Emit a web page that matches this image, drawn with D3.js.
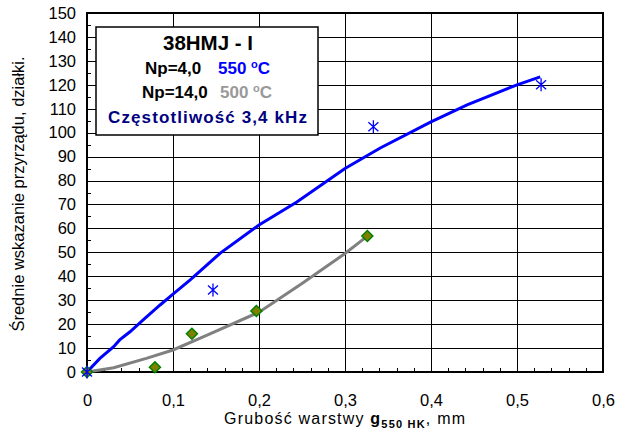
<!DOCTYPE html>
<html>
<head>
<meta charset="utf-8">
<script src="https://cdn.jsdelivr.net/npm/d3@7"></script>
<style>
  body { margin: 0; background: #fff; }
  text { font-family: "Liberation Sans", Arial, sans-serif; }
</style>
</head>
<body>
<div id="chart"></div>
<script>
// blue curve, Np=4,0, 550 oC
const blueLineX = [0, 0.015, 0.031, 0.038, 0.05, 0.065, 0.085, 0.1, 0.12, 0.155, 0.2, 0.244, 0.3, 0.341, 0.4, 0.442, 0.5, 0.527];
const blueLineY = [0, 5.7, 10.6, 13.4, 16.8, 21.7, 28, 32.5, 38.5, 49.7, 61.4, 71, 85, 93.6, 104.5, 111.6, 120, 123.3];
// gray curve, Np=14,0, 500 oC
const grayLineX = [0, 0.031, 0.069, 0.1, 0.143, 0.2, 0.25, 0.3, 0.326];
const grayLineY = [0, 1.8, 5.7, 9.2, 15.9, 25, 37, 49.5, 56.8];
// measured points
const starX = [0, 0.1465, 0.333, 0.528];
const starY = [0, 34.3, 102.5, 120];
const diamondX = [0, 0.079, 0.122, 0.197, 0.326];
const diamondY = [0, 2, 16, 25.5, 56.8];

const xTicks = [0, 0.1, 0.2, 0.3, 0.4, 0.5, 0.6];
const yTicks = d3.range(0, 151, 10);

const W = 630, H = 430;
const svg = d3.select("#chart").append("svg").attr("width", W).attr("height", H);

const x = d3.scaleLinear().domain([0, 0.6]).range([87, 603]);
const y = d3.scaleLinear().domain([0, 150]).range([372, 13]);

const loc = d3.formatLocale({ decimal: ",", thousands: " ", grouping: [3], currency: ["", ""] });
const fmtX = (d) => (d === 0 ? "0" : loc.format(".1f")(d));

// gridlines
svg.append("g")
  .attr("transform", "translate(0,372)")
  .call(d3.axisBottom(x).tickValues(xTicks).tickSize(-359).tickFormat(""))
  .call((g) => g.select(".domain").remove())
  .selectAll("line").attr("stroke", "#000").attr("shape-rendering", "crispEdges");
svg.append("g")
  .attr("transform", "translate(87,0)")
  .call(d3.axisLeft(y).tickValues(yTicks).tickSize(-516).tickFormat(""))
  .call((g) => g.select(".domain").remove())
  .selectAll("line").attr("stroke", "#000").attr("shape-rendering", "crispEdges");

// minor inner ticks
svg.append("g")
  .attr("transform", "translate(0,372)")
  .call(d3.axisBottom(x).tickValues(d3.range(0, 0.601, 0.02)).tickSize(-4).tickFormat(""))
  .call((g) => g.select(".domain").remove())
  .selectAll("line").attr("stroke", "#000").attr("shape-rendering", "crispEdges");
svg.append("g")
  .attr("transform", "translate(87,0)")
  .call(d3.axisLeft(y).tickValues(d3.range(0, 151, 5)).tickSize(-4).tickFormat(""))
  .call((g) => g.select(".domain").remove())
  .selectAll("line").attr("stroke", "#000").attr("shape-rendering", "crispEdges");

// frame
svg.append("rect")
  .attr("x", 87).attr("y", 13).attr("width", 516).attr("height", 359)
  .attr("fill", "none").attr("stroke", "#000").attr("stroke-width", 2);

// tick labels
svg.append("g")
  .attr("transform", "translate(0,372)")
  .call(d3.axisBottom(x).tickValues(xTicks).tickSize(0).tickPadding(22).tickFormat(fmtX))
  .call((g) => g.select(".domain").remove())
  .selectAll("text").attr("font-size", 16.5).attr("font-family", "Liberation Sans, Arial").attr("fill", "#000");
svg.append("g")
  .attr("transform", "translate(87,0)")
  .call(d3.axisLeft(y).tickValues(yTicks).tickSize(0).tickPadding(11).tickFormat(d3.format("d")))
  .call((g) => g.select(".domain").remove())
  .selectAll("text").attr("font-size", 16.5).attr("font-family", "Liberation Sans, Arial").attr("fill", "#000");

// axis titles
svg.append("text")
  .attr("transform", "translate(24,194) rotate(-90)")
  .attr("text-anchor", "middle")
  .attr("font-size", 16.5)
  .text("Średnie wskazanie przyrządu, działki.");

const xt = svg.append("text")
  .attr("x", 224).attr("y", 424)
  .attr("font-size", 16)
  .attr("textLength", 241);
xt.append("tspan").text("Grubość warstwy ");
xt.append("tspan").attr("font-weight", "bold").text("g");
xt.append("tspan").attr("font-weight", "bold").attr("font-size", 11).attr("dy", 4).text("550 HK");
xt.append("tspan").attr("dy", -4).text(", mm");

// lines
const line = d3.line().x((d) => x(d[0])).y((d) => y(d[1]));
svg.append("path")
  .datum(grayLineX.map((v, i) => [v, grayLineY[i]]))
  .attr("d", line).attr("fill", "none").attr("stroke", "#808080").attr("stroke-width", 3);
svg.append("path")
  .datum(blueLineX.map((v, i) => [v, blueLineY[i]]))
  .attr("d", line).attr("fill", "none").attr("stroke", "#0000ff").attr("stroke-width", 3);

// diamonds
svg.selectAll(".dia")
  .data(diamondX.map((v, i) => [v, diamondY[i]]))
  .enter().append("path")
  .attr("class", "dia")
  .attr("transform", (d) => `translate(${x(d[0])},${y(d[1])})`)
  .attr("d", "M0,-5.5L5.5,0L0,5.5L-5.5,0Z")
  .attr("fill", "#808000").attr("stroke", "#008000").attr("stroke-width", 1.5);

// asterisks
svg.selectAll(".star")
  .data(starX.map((v, i) => [v, starY[i]]))
  .enter().append("path")
  .attr("class", "star")
  .attr("transform", (d) => `translate(${x(d[0])},${y(d[1])})`)
  .attr("d", "M-5,-4.5L5,4.5M-5,4.5L5,-4.5M0,-6.5L0,6.5")
  .attr("fill", "none").attr("stroke", "#0000ff").attr("stroke-width", 1.3);

// legend box
const lg = svg.append("g");
lg.append("rect")
  .attr("x", 96).attr("y", 27).attr("width", 222).attr("height", 108)
  .attr("fill", "#fff").attr("stroke", "#000").attr("stroke-width", 1.5);
lg.append("text").attr("x", 208).attr("y", 50).attr("text-anchor", "middle")
  .attr("font-size", 20.5).attr("font-weight", "bold").text("38HMJ - I");

const l1 = lg.append("text").attr("y", 74).attr("font-size", 17).attr("font-weight", "bold");
l1.append("tspan").attr("x", 145).text("Np=4,0");
l1.append("tspan").attr("x", 218).attr("fill", "#0000ff").text("550 ");
l1.append("tspan").attr("fill", "#0000ff").attr("font-size", 11).attr("dy", -6).text("o");
l1.append("tspan").attr("fill", "#0000ff").attr("dy", 6).text("C");

const l2 = lg.append("text").attr("y", 98).attr("font-size", 17).attr("font-weight", "bold");
l2.append("tspan").attr("x", 142).text("Np=14,0");
l2.append("tspan").attr("x", 220).attr("fill", "#999999").text("500 ");
l2.append("tspan").attr("fill", "#999999").attr("font-size", 11).attr("dy", -6).text("o");
l2.append("tspan").attr("fill", "#999999").attr("dy", 6).text("C");

lg.append("text").attr("x", 108).attr("y", 123)
  .attr("font-size", 17).attr("font-weight", "bold").attr("fill", "#000080")
  .attr("textLength", 199)
  .text("Częstotliwość 3,4 kHz");
</script>
</body>
</html>
